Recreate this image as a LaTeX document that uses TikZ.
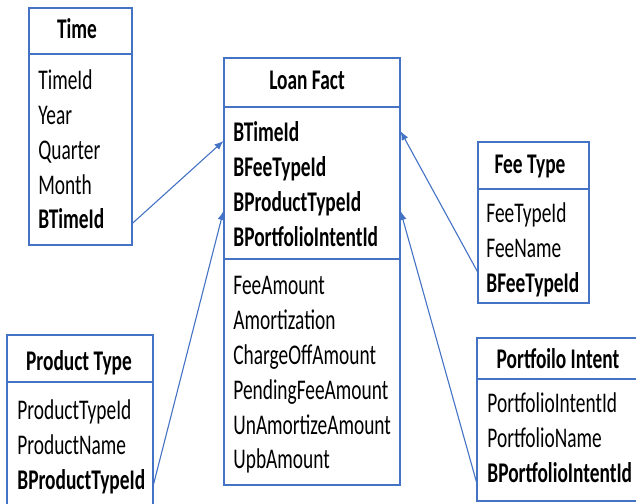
\documentclass[tikz,border=0pt]{standalone}
\usepackage{fontspec}
\setmainfont{Carlito}[FakeStretch=0.68]
\usetikzlibrary{arrows.meta,fit}
\definecolor{tblblue}{RGB}{68,114,196}
\tikzset{
    tbl/.style={draw=tblblue, line width=0.55pt, inner sep=0pt},
    field/.style={anchor=base west, inner sep=0pt, font=\fontsize{14.25}{17}\selectfont},
    keyfield/.style={field, font=\fontsize{14.25}{17}\selectfont\bfseries},
    ttl/.style={anchor=base, inner sep=0pt, font=\fontsize{14.25}{17}\selectfont\bfseries},
    fk/.style={draw=tblblue, line width=0.55pt, -{Latex[length=4.5pt,width=3.6pt]}}
}

\begin{document}
\begin{tikzpicture}[x=0.5pt, y=-0.5pt]
    \useasboundingbox (0, 0) rectangle (636, 503);
    % Time
    \node[tbl, fit={(29, 8) (132, 245)}] (time) {};
    \draw[tbl] (time.west |- 0,54) -- (time.east |- 0,54);
    \node[ttl] (timeTtl) at (77, 38) {Time};
    \node[field] (timeId) at (38, 89) {TimeId};
    \node[field] (timeYear) at (38, 124) {Year};
    \node[field] (timeQtr) at (38, 159) {Quarter};
    \node[field] (timeMonth) at (38, 194) {Month};
    \node[keyfield] (timeB) at (38, 228) {BTimeId};
    % Loan Fact
    \node[tbl, fit={(224, 58) (400, 485)}] (loan) {};
    \draw[tbl] (loan.west |- 0,107) -- (loan.east |- 0,107);
    \draw[tbl] (loan.west |- 0,259) -- (loan.east |- 0,259);
    \node[ttl] (loanTtl) at (307, 89) {Loan Fact};
    \node[keyfield] (lfTime) at (233, 141) {BTimeId};
    \node[keyfield] (lfFee) at (233, 176) {BFeeTypeId};
    \node[keyfield] (lfProd) at (233, 211) {BProductTypeId};
    \node[keyfield] (lfPort) at (233, 246) {BPortfolioIntentId};
    \node[field] (lfFeeAmt) at (233, 294) {FeeAmount};
    \node[field] (lfAmort) at (233, 329) {Amortization};
    \node[field] (lfCharge) at (233, 364) {ChargeOffAmount};
    \node[field] (lfPending) at (233, 399) {PendingFeeAmount};
    \node[field] (lfUnAmort) at (233, 434) {UnAmortizeAmount};
    \node[field] (lfUpb) at (233, 468) {UpbAmount};
    % Product Type
    \node[tbl, fit={(7, 335) (153, 512)}] (prod) {};
    \draw[tbl] (prod.west |- 0,382) -- (prod.east |- 0,382);
    \node[ttl] (prodTtl) at (79, 370) {Product Type};
    \node[field] (prodId) at (17, 419) {ProductTypeId};
    \node[field] (prodName) at (17, 454) {ProductName};
    \node[keyfield] (prodB) at (17, 489) {BProductTypeId};
    % Fee Type
    \node[tbl, fit={(478, 142) (589, 303)}] (fee) {};
    \draw[tbl] (fee.west |- 0,189) -- (fee.east |- 0,189);
    \node[ttl] (feeTtl) at (530, 173) {Fee Type};
    \node[field] (feeId) at (486, 222) {FeeTypeId};
    \node[field] (feeName) at (486, 257) {FeeName};
    \node[keyfield] (feeB) at (486, 292) {BFeeTypeId};
    % Portfoilo Intent
    \node[tbl, fit={(477, 338) (645, 501)}] (port) {};
    \draw[tbl] (port.west |- 0,379) -- (port.east |- 0,379);
    \node[ttl] (portTtl) at (558, 368) {Portfoilo Intent};
    \node[field] (portId) at (487, 412) {PortfolioIntentId};
    \node[field] (portName) at (487, 447) {PortfolioName};
    \node[keyfield] (portB) at (487, 482) {BPortfolioIntentId};
    % keys to the fact table
    \draw[fk] (time.east |- timeB.mid) -- (loan.west |- lfTime.base);
    \draw[fk] (prod.east |- prodB.mid) -- (loan.west |- lfProd.base);
    \draw[fk] (fee.west |- feeB.north) -- (loan.east |- lfTime.center);
    \draw[fk] (port.west |- portB.base) -- (loan.east |- lfProd.base);
\end{tikzpicture}
\end{document}
